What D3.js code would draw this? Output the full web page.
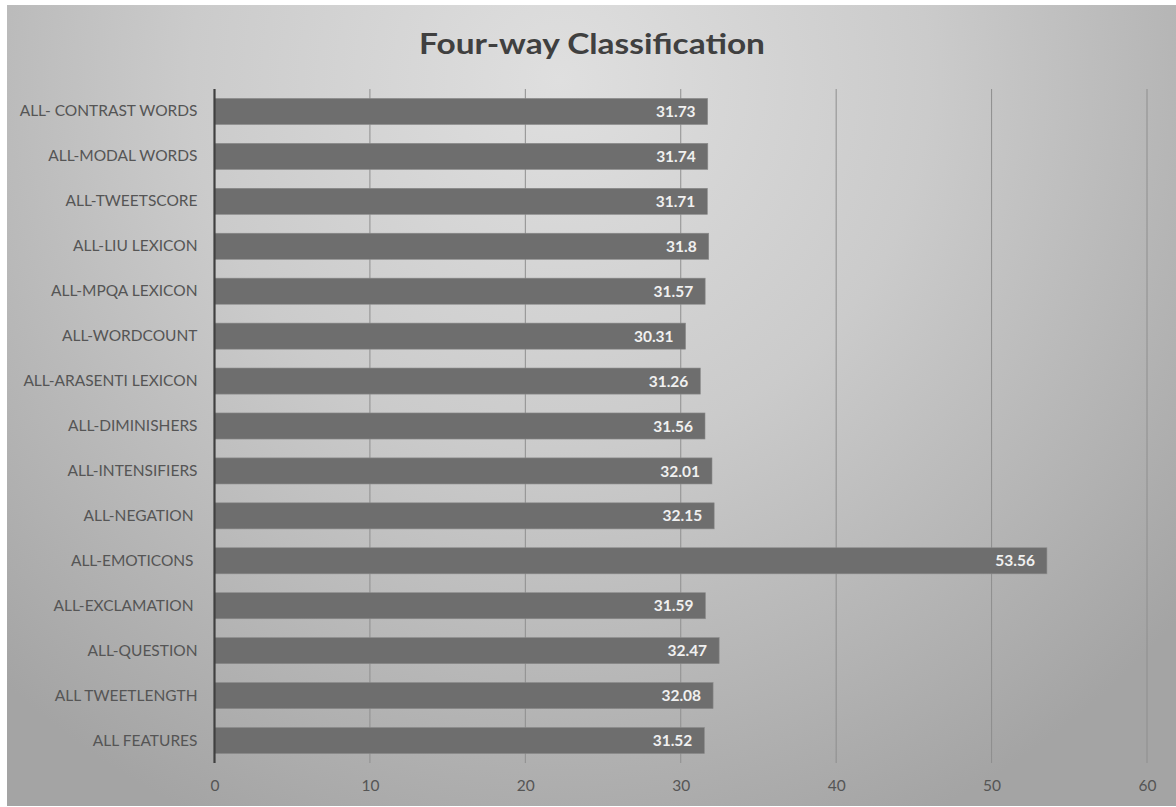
<!DOCTYPE html>
<html>
<head>
<meta charset="utf-8">
<script src="https://cdn.jsdelivr.net/npm/d3@7"></script>
<style>
  html, body { margin: 0; padding: 0; background: #fff; }
  svg text { font-family: Lato, "Open Sans", sans-serif; white-space: pre; }
</style>
</head>
<body>
<svg id="chart" width="1176" height="807"></svg>
<script>
const categories = [
    'ALL- CONTRAST WORDS', 'ALL-MODAL WORDS', 'ALL-TWEETSCORE', 'ALL-LIU LEXICON',
    'ALL-MPQA LEXICON', 'ALL-WORDCOUNT', 'ALL-ARASENTI LEXICON', 'ALL-DIMINISHERS',
    'ALL-INTENSIFIERS', 'ALL-NEGATION ', 'ALL-EMOTICONS ', 'ALL-EXCLAMATION ',
    'ALL-QUESTION', 'ALL TWEETLENGTH', 'ALL FEATURES'
]
const values = [31.73, 31.74, 31.71, 31.8, 31.57, 30.31, 31.26, 31.56, 32.01, 32.15, 53.56, 31.59, 32.47, 32.08, 31.52]
const xTicks = [0, 10, 20, 30, 40, 50, 60]

const svg = d3.select('#chart')

// background
const defs = svg.append('defs')
const grad = defs.append('radialGradient')
    .attr('id', 'bg')
    .attr('gradientUnits', 'userSpaceOnUse')
    .attr('cx', 560).attr('cy', 80).attr('r', 820)
grad.append('stop').attr('offset', '0%').attr('stop-color', '#dfdfdf')
grad.append('stop').attr('offset', '45%').attr('stop-color', '#cbcbcb')
grad.append('stop').attr('offset', '100%').attr('stop-color', '#a4a4a4')

svg.append('rect')
    .attr('x', 7).attr('y', 5)
    .attr('width', 1169).attr('height', 801)
    .attr('fill', 'url(#bg)')

svg.append('text')
    .text('Four-way Classification')
    .attr('x', 419)
    .attr('y', 54)
    .attr('textLength', 346)
    .attr('lengthAdjust', 'spacingAndGlyphs')
    .attr('font-size', 28)
    .attr('font-weight', 'bold')
    .attr('fill', '#404040')

const plotLeft = 214.5, plotRight = 1147, plotTop = 89, plotBottom = 763

const x = d3.scaleLinear().domain([0, 60]).range([plotLeft, plotRight])
const y = d3.scaleBand().domain(categories).range([plotTop, plotBottom])
    .paddingInner(0.42).paddingOuter(0.21)

// grid
svg.append('g').selectAll('line')
    .data(xTicks.slice(1))
    .join('line')
    .attr('x1', d => x(d)).attr('x2', d => x(d))
    .attr('y1', plotTop).attr('y2', plotBottom)
    .attr('stroke', '#8e8e8e')
    .attr('stroke-width', 1)

// bars
svg.append('g').selectAll('rect')
    .data(values)
    .join('rect')
    .attr('x', x(0))
    .attr('y', (d, i) => y(categories[i]))
    .attr('width', d => x(d) - x(0))
    .attr('height', y.bandwidth())
    .attr('fill', '#6e6e6e')
    .attr('stroke', '#8a8a8a')
    .attr('stroke-width', 0.6)

// value labels
svg.append('g').selectAll('text')
    .data(values)
    .join('text')
    .text(d => d)
    .attr('x', d => x(d) - 12)
    .attr('y', (d, i) => y(categories[i]) + y.bandwidth() / 2)
    .attr('dy', '0.36em')
    .attr('text-anchor', 'end')
    .attr('font-size', 15.5)
    .attr('font-weight', 'bold')
    .attr('fill', '#f0f0f0')

// y axis
const yAxis = svg.append('g')
    .attr('transform', 'translate(' + x(0) + ',0)')
    .call(d3.axisLeft(y).tickSize(0).tickPadding(17))
yAxis.select('.domain').remove()
yAxis.selectAll('.tick text')
    .attr('font-size', 15.5)
    .attr('font-family', 'Lato, sans-serif')
    .attr('fill', '#555')

svg.append('line')
    .attr('x1', x(0)).attr('x2', x(0))
    .attr('y1', plotTop).attr('y2', plotBottom)
    .attr('stroke', '#404040')
    .attr('stroke-width', 2.2)

// x axis
const xAxis = svg.append('g')
    .attr('transform', 'translate(0,' + plotBottom + ')')
    .call(d3.axisBottom(x).tickValues(xTicks).tickSize(0).tickPadding(17))
xAxis.select('.domain').remove()
xAxis.selectAll('.tick text')
    .attr('font-size', 15.5)
    .attr('font-family', 'Lato, sans-serif')
    .attr('fill', '#555')
</script>
</body>
</html>
